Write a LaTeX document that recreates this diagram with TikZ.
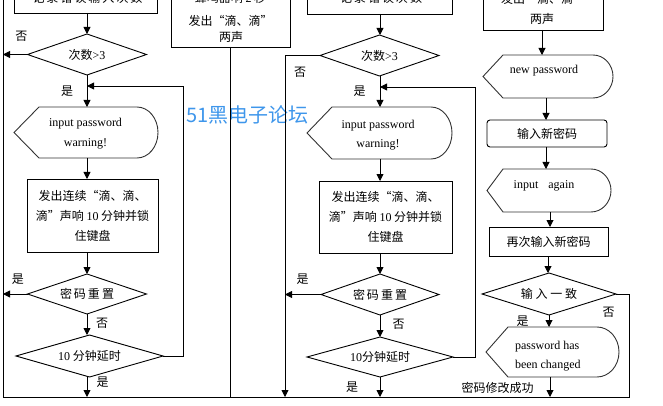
\documentclass[tikz,border=0pt]{standalone}
\usepackage{fontspec}
\setmainfont{Liberation Serif}
\newfontfamily\cjk{Noto Sans CJK SC}
\usetikzlibrary{arrows.meta,shapes.geometric}
\definecolor{wmblue}{RGB}{62,150,235}
\newcommand{\zhf}{\cjk\fontsize{12pt}{20pt}\selectfont}
\newcommand{\enf}{\rmfamily\fontsize{12pt}{20pt}\selectfont}
\newcommand{\dispshape}[4]{\draw[dln] (#1.west) -- ([xshift=#2pt]#1.north west) -- ([xshift=-#3pt]#1.north east) arc[start angle=90,end angle=-90,x radius=#3pt,y radius=#4pt] -- ([xshift=#2pt]#1.south west) -- cycle;}
\begin{document}
\begin{tikzpicture}[x=1pt,y=-1pt,
 every node/.style={outer sep=0pt,inner sep=0pt},
 ln/.style={line width=0.9pt,black},
 dln/.style={line width=0.9pt,black!80},
 arr/.style={ln,-{Triangle[length=7pt,width=7pt]}},
 box/.style={draw,ln,rectangle,align=center,font=\zhf},
 dia/.style={draw,ln,diamond,aspect=3,font=\zhf},
 etxt/.style={font=\enf,anchor=base},
 ztxt/.style={font=\zhf,anchor=base},
 lab/.style={font=\zhf}]
\useasboundingbox (0,0) rectangle (663,406);
\clip (0,0) rectangle (663,406);

% reference coordinates
\coordinate (TL) at (3,0);
\coordinate (BL) at (3,397);
\coordinate (BR) at (629,397);
\coordinate (Lx) at (87,0);
\coordinate (Lloop) at (183,86);
\coordinate (Mno) at (285,397);
\coordinate (Mx) at (380,0);
\coordinate (Mloop) at (475,87);
\coordinate (R1) at (542,0);
\coordinate (R2) at (546,0);
\coordinate (R3) at (550,0);
\coordinate (R4) at (548,0);

% watermark
\node[font=\cjk\fontsize{20pt}{20pt}\selectfont,text=wmblue] (wm) at (247.5,115) {51黑电子论坛};

% ---------- left column ----------
\node[box,minimum width=143pt,minimum height=40pt,anchor=south] (L0) at (85.5,13) {};
\node[ztxt] (L0t) at (87.5,3) {记\kern2pt 录\kern2pt 错\kern2pt 误\kern2pt 输\kern2pt 入\kern2pt 次\kern2pt 数};
\node[dia,minimum width=119pt,minimum height=41pt] (LD1) at (87,54.5) {次数{\rmfamily >3}};
\node[minimum width=144pt,minimum height=51pt] (LH1) at (86,132.5) {};
\dispshape{LH1}{25}{21}{25.5}
\node[etxt] (LH1a) at (85.5,127) {input password};
\node[etxt] (LH1b) at (85.5,147) {warning!};
\node[box,minimum width=131pt,minimum height=73pt] (LB1) at (92.5,215.5) {发出连续“滴、滴、\\滴”声响 {\rmfamily 10} 分钟并锁\\住键盘};
\node[dia,minimum width=119pt,minimum height=40pt] (LD2) at (87,294) {密\kern2pt 码\kern2pt 重\kern2pt 置};
\node[dia,minimum width=147pt,minimum height=42pt] (LD3) at (89.5,356) {{\rmfamily 10} 分钟延时};

\draw[arr] (L0.south -| Lx) -- (LD1.north);
\draw[arr] (LD1.west) -- (LD1.west -| TL);
\draw[arr] (LD1.south) -- (Lx |- LH1.north);
\draw[arr] (Lx |- LH1.south) -- (Lx |- LB1.north);
\draw[arr] (Lx |- LB1.south) -- (LD2.north);
\draw[arr] (LD2.west) -- (LD2.west -| TL);
\draw[arr] (LD2.south) -- (Lx |- LD3.north);
\draw[arr] (Lx |- LD3.south) -- (Lx |- BL);
\draw[arr] (LD3.east) -| (Lloop) -- (Lloop -| Lx);

\node[lab] (n1) at (21.5,36) {否};
\node[lab] (y1) at (67,91.5) {是};
\node[lab] (y2) at (18,279) {是};
\node[lab] (n2) at (102,323.5) {否};
\node[lab] (y3) at (102.5,382.5) {是};

% ---------- middle ----------
\node[box,minimum width=119pt,minimum height=67pt,anchor=south] (B) at (230.5,47) {};
\node[ztxt] (Bt1) at (230.5,3) {蜂鸣器响 {\rmfamily 2} 秒};
\node[ztxt] (Bt2) at (230.5,25.5) {发出“滴、滴”};
\node[ztxt] (Bt3) at (231,42) {两声};
\draw[ln] (B.south) -- (B.south |- BL);

\node[box,minimum width=145pt,minimum height=40pt,anchor=south] (M0) at (379.5,14) {};
\node[ztxt] (M0t) at (381,3) {记\kern2pt 录\kern2pt 错\kern2pt 误\kern2pt 次\kern2pt 数};
\node[dia,minimum width=119pt,minimum height=41pt] (MD1) at (379.5,55.5) {次数{\rmfamily >3}};
\node[minimum width=145pt,minimum height=52pt] (MH1) at (379.5,133) {};
\dispshape{MH1}{25}{21}{26}
\node[etxt] (MH1a) at (378,128.5) {input password};
\node[etxt] (MH1b) at (378,148) {warning!};
\node[box,minimum width=133pt,minimum height=72pt] (MB1) at (385.5,217) {发出连续“滴、滴、\\滴”声响 {\rmfamily 10} 分钟并锁\\住键盘};
\node[dia,minimum width=118pt,minimum height=41pt] (MD2) at (380,294.5) {密\kern2pt 码\kern2pt 重\kern2pt 置};
\node[dia,minimum width=146pt,minimum height=40pt] (MD3) at (380,357) {{\rmfamily 10}分钟延时};

\draw[arr] (Mx |- M0.south) -- (Mx |- MD1.north);
\draw[arr] (MD1.west) -| (Mno);
\draw[arr] (Mx |- MD1.south) -- (Mx |- MH1.north);
\draw[arr] (Mx |- MH1.south) -- (Mx |- MB1.north);
\draw[arr] (Mx |- MB1.south) -- (MD2.north);
\draw[arr] (MD2.west) -- (MD2.west -| Mno);
\draw[arr] (MD2.south) -- (MD3.north);
\draw[arr] (MD3.south) -- (MD3.south |- BL);
\draw[arr] (MD3.east) -| (Mloop) -- (Mloop -| Mx);

\node[lab] (n3) at (300,72) {否};
\node[lab] (y4) at (359.5,91.5) {是};
\node[lab] (y5) at (302.5,279.5) {是};
\node[lab] (n4) at (398.5,324.5) {否};
\node[lab] (y6) at (352,387) {是};

% ---------- right column ----------
\node[box,minimum width=120pt,minimum height=50pt,anchor=south] (R0) at (543,30) {};
\node[ztxt] (R0t1) at (543,4) {发出“滴、滴”};
\node[ztxt] (R0t2) at (542,24) {两声};
\node[minimum width=130pt,minimum height=43pt] (RH1) at (548,76.5) {};
\dispshape{RH1}{20}{20}{21.5}
\node[etxt] (RH1t) at (544,74) {new password};
\node[box,rounded corners=3pt,minimum width=120pt,minimum height=27pt] (RB1) at (547,133.5) {输入新密码};
\node[minimum width=124pt,minimum height=43pt] (RH2) at (549,190.5) {};
\dispshape{RH2}{16}{20}{21.5}
\node[etxt] (RH2t) at (544,189) {input\hspace{10pt}again};
\node[box,minimum width=119pt,minimum height=29pt] (RB2) at (548.5,241.5) {再次输入新密码};
\node[dia,minimum width=134pt,minimum height=42pt] (RD) at (549,294) {输 入 一 致};
\node[minimum width=133pt,minimum height=50pt] (RH3) at (552.5,352) {};
\dispshape{RH3}{22}{22}{25}
\node[etxt,anchor=base west] (RH3a) at (515,349) {password has};
\node[etxt,anchor=base west] (RH3b) at (515,368) {been changed};

\draw[arr] (R1 |- R0.south) -- (R1 |- RH1.north);
\draw[arr] (R2 |- RH1.south) -- (R2 |- RB1.north);
\draw[arr] (R2 |- RB1.south) -- (R2 |- RH2.north);
\draw[arr] (R3 |- RH2.south) -- (R3 |- RB2.north);
\draw[arr] (R4 |- RB2.south) -- (R4 |- RD.north);
\draw[arr] (RD.south) -- (RD.south |- RH3.north);
\draw[arr] (R3 |- RH3.south) -- (R3 |- BL);

% outer frame lines
\draw[ln] (RD.east) -| (BR) -- (BL) -- (TL);

\node[lab] (n5) at (608.5,312) {否};
\node[lab] (y7) at (522.5,321) {是};
\node[lab] (ok) at (497.5,387.5) {密码修改成功};
\end{tikzpicture}
\end{document}
